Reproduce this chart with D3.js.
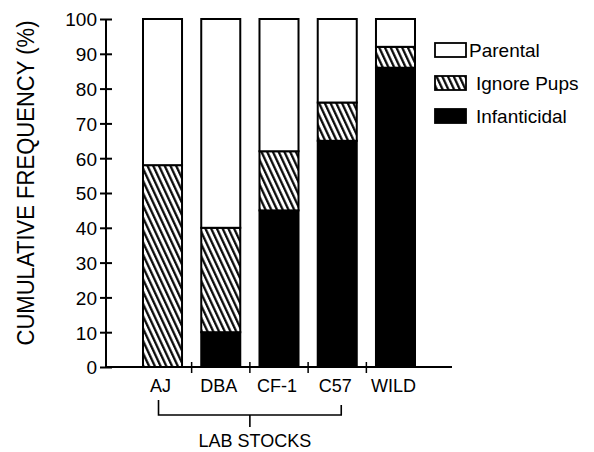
<!DOCTYPE html>
<html>
<head>
<meta charset="utf-8">
<script src="https://cdn.jsdelivr.net/npm/d3@7"></script>
<style>
	body { margin: 0; background: #fff; }
	text { font-family: "Liberation Sans", Arial, sans-serif; fill: #000; }
</style>
</head>
<body>
<svg id="chart" width="594" height="452"></svg>
<script>
var categories = ["AJ", "DBA", "CF-1", "C57", "WILD"];
var infanticidal = [0, 10, 45, 65, 86];
var ignorePups = [58, 30, 17, 11, 6];
var parental = [42, 60, 38, 24, 8];
var yTicks = [0, 10, 20, 30, 40, 50, 60, 70, 80, 90, 100];
var seriesNames = ["Infanticidal", "Ignore Pups", "Parental"];
var legendOrder = ["Parental", "Ignore Pups", "Infanticidal"];
var labStocks = ["AJ", "DBA", "CF-1", "C57"];

var svg = d3.select("#chart");

// hatch pattern for the "ignore pups" segments
var defs = svg.append("defs");
defs.append("pattern")
	.attr("id", "hatch")
	.attr("patternUnits", "userSpaceOnUse")
	.attr("width", 5.2)
	.attr("height", 10)
	.attr("patternTransform", "rotate(-25)")
	.call(function(p) {
		p.append("rect").attr("width", 5.2).attr("height", 10).attr("fill", "#fff");
		p.append("line").attr("x1", 1.2).attr("x2", 1.2).attr("y1", 0).attr("y2", 10)
			.attr("stroke", "#000").attr("stroke-width", 2.2);
	});

var fills = {"Infanticidal": "#000", "Ignore Pups": "url(#hatch)", "Parental": "#fff"};

var y = d3.scaleLinear().domain([0, 100]).range([367, 19]);
var x = d3.scaleBand().domain(categories).range([143, 415]).paddingInner(0.33).paddingOuter(0);

// table for the stack
var table = categories.map(function(c, i) {
	return {name: c, "Infanticidal": infanticidal[i], "Ignore Pups": ignorePups[i], "Parental": parental[i]};
});
var stacked = d3.stack().keys(seriesNames)(table);

// bars
svg.append("g").selectAll("g")
	.data(stacked)
	.enter().append("g")
	.attr("fill", function(d) { return fills[d.key]; })
	.selectAll("rect")
	.data(function(d) { return d.filter(function(s) { return s[1] > s[0]; }); })
	.enter().append("rect")
	.attr("x", function(d) { return x(d.data.name); })
	.attr("y", function(d) { return y(d[1]); })
	.attr("width", x.bandwidth())
	.attr("height", function(d) { return y(d[0]) - y(d[1]); })
	.attr("stroke", "#000")
	.attr("stroke-width", 2);

// y axis
var yAxis = svg.append("g").attr("transform", "translate(106,0)")
	.call(d3.axisLeft(y).tickValues(yTicks).tickSize(6).tickPadding(4));
yAxis.select(".domain").attr("stroke-width", 2).attr("d", "M0," + y(100) + "V" + y(0));
yAxis.selectAll(".tick line").attr("x1", -6).attr("x2", 6).attr("stroke-width", 2);
yAxis.selectAll(".tick text").style("font-size", "19px").attr("x", -9).attr("dy", "0.36em");

// x axis baseline and ticks between bars
var step = x.step();
var gaps = categories.slice(1).map(function(c) { return x(c) - (step - x.bandwidth()) / 2; });
svg.append("line")
	.attr("x1", 106).attr("x2", 452).attr("y1", y(0)).attr("y2", y(0))
	.attr("stroke", "#000").attr("stroke-width", 2);
svg.append("g").selectAll("line")
	.data(gaps)
	.enter().append("line")
	.attr("x1", function(d) { return d; }).attr("x2", function(d) { return d; })
	.attr("y1", y(0) - 5).attr("y2", y(0) + 6)
	.attr("stroke", "#000").attr("stroke-width", 1.5);

svg.append("g").selectAll("text")
	.data(categories)
	.enter().append("text")
	.attr("x", function(d) { return x(d) + x.bandwidth() / 2 - 2; })
	.attr("y", 392)
	.attr("text-anchor", "middle")
	.style("font-size", "18px")
	.text(function(d) { return d; });

// LAB STOCKS bracket
var bx0 = x(labStocks[0]) + x.bandwidth() / 2 - 4,
	bx1 = x(labStocks[labStocks.length - 1]) + x.bandwidth() / 2 + 4,
	bmid = gaps[1];
svg.append("path")
	.attr("d", "M" + bx0 + ",400V415H" + bx1 + "V405M" + bmid + ",415V427")
	.attr("fill", "none").attr("stroke", "#000").attr("stroke-width", 1.6);
svg.append("text")
	.attr("x", bmid + 5).attr("y", 447)
	.attr("text-anchor", "middle")
	.style("font-size", "18px")
	.text("LAB STOCKS");

// y axis title
svg.append("text")
	.attr("transform", "translate(34,183) rotate(-90)")
	.attr("text-anchor", "middle")
	.attr("textLength", 325)
	.attr("lengthAdjust", "spacingAndGlyphs")
	.style("font-size", "23px")
	.text("CUMULATIVE FREQUENCY (%)");

// legend
var legend = svg.append("g").selectAll("g")
	.data(legendOrder)
	.enter().append("g")
	.attr("transform", function(d, i) { return "translate(435," + (43 + i * 33) + ")"; });
legend.append("rect")
	.attr("width", 31).attr("height", 14)
	.attr("fill", function(d) { return fills[d]; })
	.attr("stroke", "#000").attr("stroke-width", 1.8);
legend.append("text")
	.attr("x", function(d) { return d === "Parental" ? 34 : 41; })
	.attr("y", 14)
	.style("font-size", "19px")
	.text(function(d) { return d; });
</script>
</body>
</html>
